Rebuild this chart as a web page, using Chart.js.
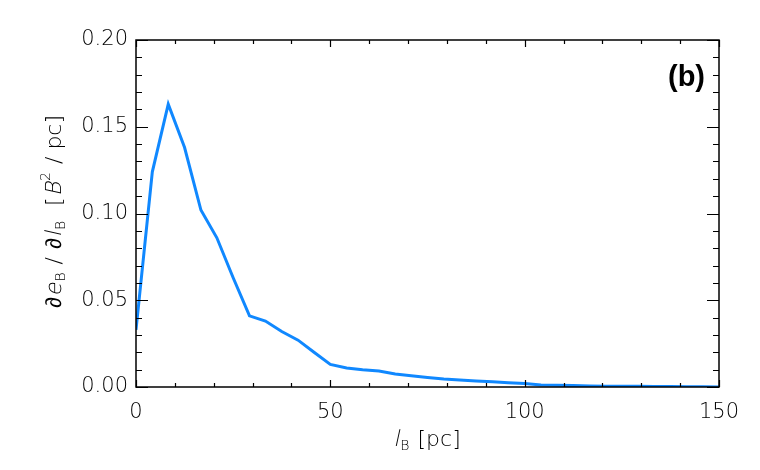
<!DOCTYPE html>
<html>
<head>
<meta charset="utf-8">
<title>dE/dl spectrum</title>
<script src="https://cdn.jsdelivr.net/npm/chart.js@4.4.1/dist/chart.umd.min.js"></script>
<style>
  html, body { margin: 0; padding: 0; background: #fff; }
  #wrap { width: 760px; height: 470px; }
</style>
</head>
<body>
<div id="wrap"><canvas id="chart" width="760" height="470"></canvas></div>
<script>
"use strict";

// l_B [pc] sample positions
const lB = [0, 4.2, 8.3, 12.5, 16.7, 20.8, 25.0, 29.2, 33.3, 37.5, 41.7, 45.8, 50.0, 54.2,
            58.3, 62.5, 66.7, 70.8, 75.0, 79.2, 83.3, 87.5, 91.7, 95.8, 100.0, 104.2, 108.3,
            112.5, 116.7, 120.8, 125.0, 129.2, 133.3, 137.5, 141.7, 145.8, 150.0];
// d e_B / d l_B [B^2/pc]
const dEdl = [0.033, 0.124, 0.163, 0.138, 0.102, 0.086, 0.063, 0.041, 0.038, 0.032, 0.027, 0.020,
              0.013, 0.011, 0.010, 0.0092, 0.0075, 0.0065, 0.0055, 0.0046, 0.0040, 0.0035, 0.0030,
              0.0025, 0.0020, 0.0012, 0.0010, 0.0008, 0.0006, 0.0005, 0.0004, 0.0004, 0.0003,
              0.0003, 0.0001, 0.0001, 0.0];

const xTicks = [0, 50, 100, 150];
const yTicks = [0, 0.05, 0.10, 0.15, 0.20];
const xMinorStep = 10;
const yMinorStep = 0.01;

const FONT = '"DejaVu Sans", "Liberation Sans", sans-serif';

// ticks pointing inward on all four sides, like IDL plots
const frameTicks = {
    id: 'frameTicks',
    afterDraw(chart) {
        const ctx = chart.ctx;
        const a = chart.chartArea;
        const xs = chart.scales.x, ys = chart.scales.y;
        ctx.save();
        ctx.strokeStyle = '#000';
        ctx.lineWidth = 1.5;
        ctx.strokeRect(a.left, a.top, a.right - a.left, a.bottom - a.top);
        ctx.lineWidth = 1.2;
        ctx.beginPath();
        for (let v = xs.min; v <= xs.max + 1e-9; v += xMinorStep) {
            const px = Math.round(xs.getPixelForValue(v)) + 0.5;
            const len = xTicks.includes(Math.round(v)) ? 7 : 4;
            ctx.moveTo(px, a.bottom); ctx.lineTo(px, a.bottom - len);
            ctx.moveTo(px, a.top); ctx.lineTo(px, a.top + len);
        }
        for (let i = 0; i <= Math.round((ys.max - ys.min) / yMinorStep); i++) {
            const v = ys.min + i * yMinorStep;
            const py = Math.round(ys.getPixelForValue(v)) + 0.5;
            const len = (i % 5 === 0) ? 12 : 6;
            ctx.moveTo(a.left, py); ctx.lineTo(a.left + len, py);
            ctx.moveTo(a.right, py); ctx.lineTo(a.right - len, py);
        }
        ctx.stroke();

        // panel label
        ctx.fillStyle = '#000';
        ctx.font = 'bold 29px "Liberation Sans", Arial, sans-serif';
        ctx.textAlign = 'right';
        ctx.textBaseline = 'middle';
        ctx.fillText('(b)', a.right - 14, 78);

        // axis titles with sub/superscripts
        drawRich(ctx, [
            ['l', 1, 'base'], ['B', 0, 'sub'], [' [pc]', 0, 'base']
        ], (a.left + a.right) / 2, 438, 0);
        drawRich(ctx, [
            ['\u2202', 0, 'base'], ['e', 1, 'base'], ['B', 0, 'sub'], [' / ', 0, 'base'],
            ['\u2202', 0, 'base'], ['l', 1, 'base'], ['B', 0, 'sub'], ['  [', 0, 'base'],
            ['B', 1, 'base'], ['2', 0, 'sup'], [' / pc]', 0, 'base']
        ], 53, 211, -Math.PI / 2);
        ctx.restore();
    }
};

// draws text pieces left to right; italic pieces are slanted by hand so the thin weight stays
function drawRich(ctx, parts, cx, cy, rot) {
    const size = 22;
    const fontFor = (p) => '200 ' + (p[2] === 'base' ? size : Math.round(size * 0.62)) + 'px ' + FONT;
    const gap = 1;
    let total = 0;
    parts.forEach(p => { ctx.font = fontFor(p); total += ctx.measureText(p[0]).width + gap; });
    ctx.save();
    ctx.translate(cx, cy);
    ctx.rotate(rot);
    ctx.textAlign = 'left';
    ctx.textBaseline = 'alphabetic';
    ctx.fillStyle = '#000';
    let x = -total / 2;
    parts.forEach(p => {
        ctx.font = fontFor(p);
        let dy = 8;
        if (p[2] === 'sub') dy = 12;
        if (p[2] === 'sup') dy = -3;
        ctx.save();
        ctx.translate(x, dy);
        if (p[1]) ctx.transform(1, 0, -0.22, 1, 0, 0);
        ctx.fillText(p[0], 0, 0);
        ctx.restore();
        x += ctx.measureText(p[0]).width + gap;
    });
    ctx.restore();
}

new Chart(document.getElementById('chart'), {
    type: 'line',
    data: {
        datasets: [{
            data: lB.map((x, i) => ({ x: x, y: dEdl[i] })),
            borderColor: 'rgb(16,136,255)',
            borderWidth: 3,
            pointRadius: 0,
            tension: 0,
            fill: false
        }]
    },
    options: {
        responsive: false,
        animation: false,
        layout: { padding: { left: 0, top: 40, right: 41, bottom: 0 } },
        plugins: { legend: { display: false }, tooltip: { enabled: false } },
        scales: {
            x: {
                type: 'linear',
                min: 0, max: 150,
                afterFit(s) { s.height = 83; },
                afterBuildTicks(s) { s.ticks = xTicks.map(v => ({ value: v })); },
                grid: { display: false, drawTicks: false },
                border: { display: false },
                ticks: {
                    padding: 13,
                    color: '#000',
                    font: { family: FONT, size: 21, weight: 200 },
                    maxRotation: 0,
                    callback: v => String(v)
                }
            },
            y: {
                min: 0, max: 0.2,
                afterFit(s) { s.width = 136; },
                afterBuildTicks(s) { s.ticks = yTicks.map(v => ({ value: v })); },
                grid: { display: false, drawTicks: false },
                border: { display: false },
                ticks: {
                    padding: 8,
                    color: '#000',
                    font: { family: FONT, size: 21, weight: 200 },
                    callback: v => v.toFixed(2)
                }
            }
        }
    },
    plugins: [frameTicks]
});
</script>
</body>
</html>
